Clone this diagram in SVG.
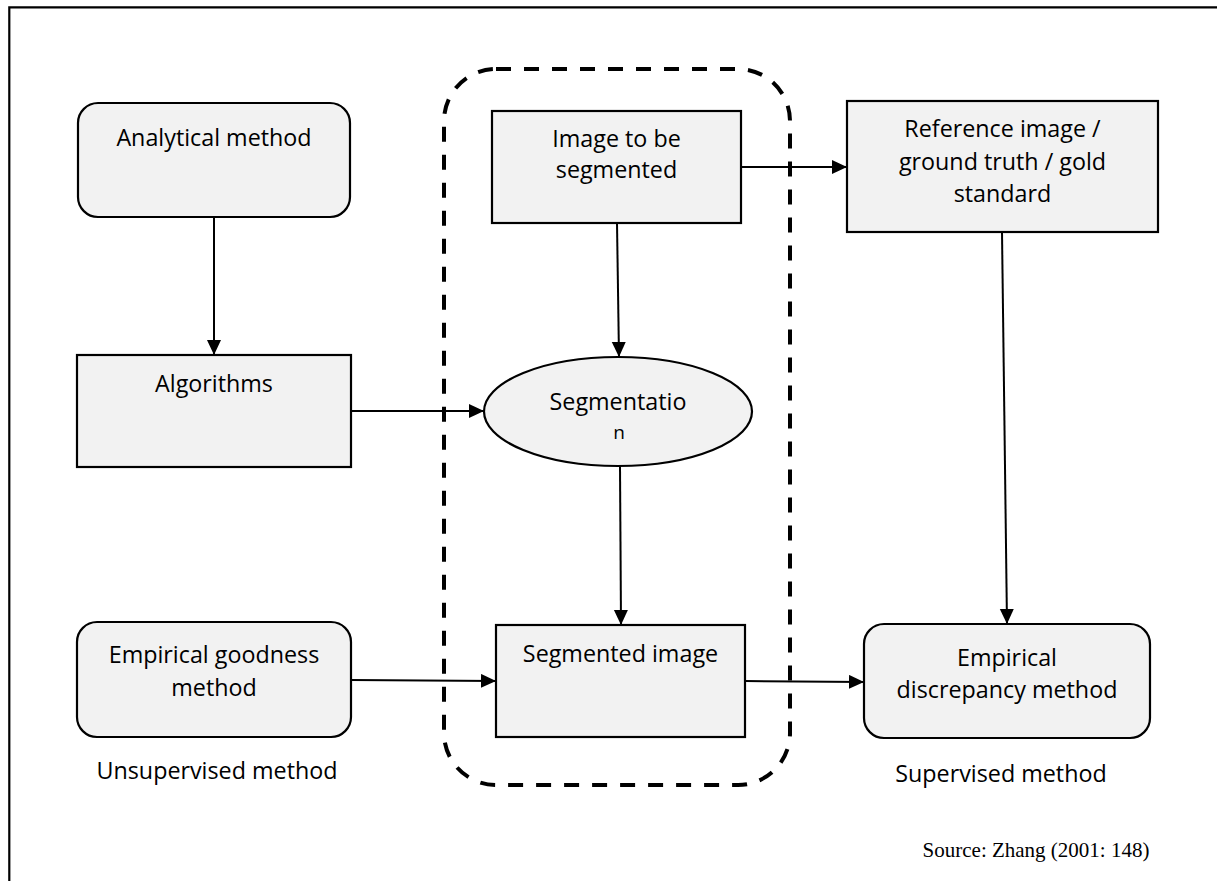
<svg xmlns="http://www.w3.org/2000/svg" width="1217" height="881" viewBox="0 0 1217 881">
  <style>
    .box { fill: #f2f2f2; stroke: #000; stroke-width: 2.2; }
    .lbl { font-family: "Open Sans", "Liberation Sans", sans-serif; font-size: 23.3px; fill: #000; text-anchor: middle; }
    .src { font-family: "Liberation Serif", serif; font-size: 21px; fill: #000; text-anchor: middle; }
    .conn { stroke: #000; stroke-width: 2; fill: none; marker-end: url(#arrow); }
    .frame { stroke: #000; stroke-width: 2.2; fill: none; }
    .group { stroke: #000; stroke-width: 4; fill: none; stroke-dasharray: 15 13; }
  </style>
  <defs>
    <marker id="arrow" markerUnits="userSpaceOnUse" markerWidth="16" markerHeight="15" refX="15" refY="7" orient="auto">
      <path d="M0,0 L15,7 L0,14 Z" fill="#000"/>
    </marker>
  </defs>

  <rect width="1217" height="881" fill="#fff"/>

  <!-- page frame: top and left rules -->
  <path class="frame" d="M9.3,881 V7.3 H1217"/>

  <!-- dashed grouping around the segmentation pipeline -->
  <rect class="group" x="444" y="69" width="346" height="716" rx="52" ry="52"/>

  <g id="analytical">
    <rect class="box" x="78" y="103" width="272" height="114" rx="20" ry="20"/>
    <text class="lbl" x="214" y="146">Analytical method</text>
  </g>

  <g id="algorithms">
    <rect class="box" x="77" y="355" width="274" height="112"/>
    <text class="lbl" x="214" y="392">Algorithms</text>
  </g>

  <g id="image-to-segment">
    <rect class="box" x="492" y="111" width="249" height="112"/>
    <text class="lbl" x="616.5" y="147">Image to be</text>
    <text class="lbl" x="616.5" y="178">segmented</text>
  </g>

  <g id="reference">
    <rect class="box" x="847" y="101" width="311" height="131"/>
    <text class="lbl" x="1002.5" y="137">Reference image /</text>
    <text class="lbl" x="1002.5" y="170">ground truth / gold</text>
    <text class="lbl" x="1002.5" y="202">standard</text>
  </g>

  <g id="segmentation">
    <ellipse class="box" cx="618" cy="411.5" rx="134" ry="54.5"/>
    <text class="lbl" x="618" y="410">Segmentatio</text>
    <text class="lbl" x="619" y="439" style="font-size:19px">n</text>
  </g>

  <g id="segmented-image">
    <rect class="box" x="496" y="625" width="249" height="112"/>
    <text class="lbl" x="620.5" y="662">Segmented image</text>
  </g>

  <g id="goodness">
    <rect class="box" x="77" y="622" width="274" height="115" rx="20" ry="20"/>
    <text class="lbl" x="214" y="663">Empirical goodness</text>
    <text class="lbl" x="214" y="696">method</text>
  </g>

  <g id="discrepancy">
    <rect class="box" x="864" y="624" width="286" height="114" rx="20" ry="20"/>
    <text class="lbl" x="1007" y="666">Empirical</text>
    <text class="lbl" x="1007" y="698">discrepancy method</text>
  </g>

  <g id="captions">
    <text class="lbl" x="217" y="779">Unsupervised method</text>
    <text class="lbl" x="1001" y="782">Supervised method</text>
    <text class="src" x="1036" y="857">Source: Zhang (2001: 148)</text>
  </g>

  <g id="connectors">
    <path class="conn" d="M214,217 L214,355"/>
    <path class="conn" d="M351,411 L484,411"/>
    <path class="conn" d="M617,223 L619,357"/>
    <path class="conn" d="M741,167 L847,167"/>
    <path class="conn" d="M1002,232 L1007,624"/>
    <path class="conn" d="M620,466 L621,625"/>
    <path class="conn" d="M351,680 L496,681"/>
    <path class="conn" d="M745,681 L864,682"/>
  </g>
</svg>
